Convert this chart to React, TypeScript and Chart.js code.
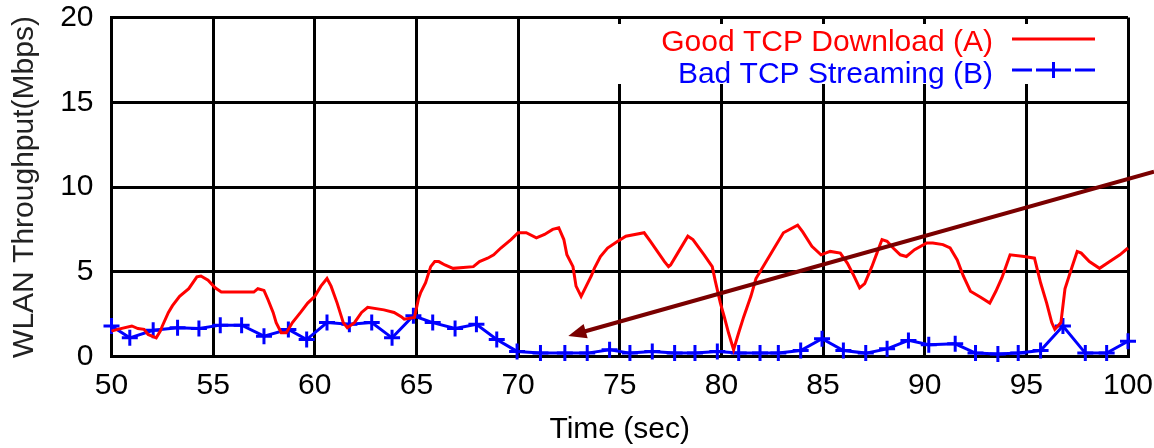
import React, { useEffect, useRef } from "react";
import { Chart, registerables } from "chart.js";

Chart.register(...registerables);

// ---- data ----
const redTimes = [
  50.0, 50.3, 51.0, 51.3, 51.6, 51.8, 52.2, 52.4, 52.5, 52.8, 53.0, 53.35, 53.8, 54.2, 54.4, 54.75,
  55.1, 55.4, 57.0, 57.2, 57.5, 57.7, 57.95, 58.1, 58.35, 58.6, 58.9, 59.3, 59.65, 60.0, 60.3, 60.6,
  60.8, 61.1, 61.4, 61.6, 61.95, 62.3, 62.6, 63.4, 63.9, 64.25, 64.4, 64.9, 65.1, 65.2, 65.45, 65.7,
  65.9, 66.1, 66.4, 66.8, 67.8, 68.1, 68.5, 68.8, 69.15, 69.65, 70.0, 70.4, 70.9, 71.3, 71.7, 72.0,
  72.25, 72.4, 72.7, 72.85, 73.1, 73.35, 73.6, 73.75, 74.05, 74.4, 74.9, 75.3, 76.2, 76.5, 76.85, 77.2,
  77.4, 77.5, 77.85, 78.35, 78.6, 79.15, 79.55, 79.7, 79.95, 80.15, 80.35, 80.6, 80.85, 81.1, 81.45, 81.7,
  82.1, 82.6, 83.05, 83.75, 84.0, 84.45, 84.9, 85.35, 85.85, 86.2, 86.5, 86.8, 87.05, 87.4, 87.65, 87.9,
  88.15, 88.45, 88.8, 89.1, 89.5, 90.1, 90.4, 90.9, 91.25, 91.6, 91.9, 92.25, 92.75, 93.2, 93.5, 93.8,
  94.2, 94.9, 95.4, 95.7, 96.0, 96.25, 96.4, 96.7, 96.9, 97.25, 97.5, 97.7, 98.1, 98.6, 99.1, 99.6, 100.0,
];
const redValues = [
  1.5, 1.6, 1.8, 1.65, 1.6, 1.3, 1.1, 1.5, 1.8, 2.6, 3.0, 3.55, 4.0, 4.7, 4.75, 4.5,
  4.05, 3.8, 3.8, 4.0, 3.9, 3.35, 2.6, 2.0, 1.4, 1.4, 2.0, 2.6, 3.15, 3.55, 4.15, 4.6,
  4.15, 3.15, 2.0, 1.7, 2.0, 2.6, 2.9, 2.75, 2.6, 2.35, 2.2, 2.3, 3.4, 3.75, 4.35, 5.3,
  5.6, 5.6, 5.4, 5.2, 5.3, 5.6, 5.8, 6.0, 6.4, 6.9, 7.3, 7.3, 7.0, 7.2, 7.5, 7.6,
  6.9, 6.0, 5.3, 4.15, 3.55, 4.15, 4.75, 5.2, 5.9, 6.4, 6.8, 7.1, 7.3, 6.8, 6.2, 5.6,
  5.3, 5.4, 6.1, 7.1, 6.9, 6.0, 5.3, 4.45, 3.15, 2.3, 1.4, 0.4, 1.4, 2.35, 3.55, 4.6,
  5.4, 6.4, 7.3, 7.75, 7.35, 6.5, 6.0, 6.2, 6.1, 5.5, 4.8, 4.05, 4.3, 5.3, 6.1, 6.9,
  6.8, 6.4, 6.0, 5.9, 6.3, 6.7, 6.7, 6.6, 6.4, 5.7, 4.75, 3.85, 3.5, 3.15, 3.85, 4.65,
  6.0, 5.9, 5.8, 4.35, 3.15, 2.0, 1.6, 2.0, 4.0, 5.3, 6.2, 6.1, 5.6, 5.2, 5.6, 6.0, 6.4,
];
const blueTimes = [
  50.0, 50.9, 52.05, 53.25, 54.3, 55.35, 56.4, 57.5, 58.7, 59.6, 60.6, 61.7, 62.8, 63.8, 64.85, 65.8,
  66.9, 67.95, 68.95, 69.95, 71.1, 72.3, 73.4, 74.5, 75.5, 76.6, 77.7, 78.7, 79.8, 80.85, 81.9, 82.8,
  83.9, 84.95, 86.0, 87.1, 88.15, 89.2, 90.2, 91.5, 92.5, 93.6, 94.6, 95.7, 96.8, 97.9, 98.95, 100.0,
];
const blueValues = [
  1.8, 1.1, 1.55, 1.7, 1.65, 1.85, 1.85, 1.2, 1.6, 1.0, 2.0, 1.9, 2.0, 1.1, 2.4, 2.0,
  1.65, 1.9, 1.0, 0.3, 0.2, 0.2, 0.2, 0.4, 0.2, 0.3, 0.2, 0.2, 0.3, 0.2, 0.2, 0.2,
  0.35, 1.05, 0.35, 0.2, 0.45, 0.95, 0.7, 0.75, 0.2, 0.15, 0.2, 0.35, 1.8, 0.2, 0.2, 0.9,
];
const seriesLabels = ["Good TCP Download (A)", "Bad TCP Streaming (B)"];
const seriesColors = ["#ff0000", "#0000ff"];
const xTitle = "Time (sec)";
const yTitle = "WLAN Throughput(Mbps)";
const xRange = [50, 100];
const yRange = [0, 20];
const tickStep = 5;
// annotation arrow, in data coordinates: [tail, head]
const arrowX = [101.28, 72.47];
const arrowY = [10.9, 1.21];

const FONT = "'Liberation Sans', Arial, sans-serif";

const legendPlugin = {
  id: "gnuLegend",
  beforeDatasetsDraw(chart: any) {
    const ctx = chart.ctx;
    const ca = chart.chartArea;
    ctx.save();
    ctx.fillStyle = "#ffffff";
    ctx.fillRect(596, ca.top + 6.5, ca.right - 2 - 596, 60);
    ctx.font = `30px ${FONT}`;
    ctx.textAlign = "right";
    ctx.textBaseline = "alphabetic";
    const textRight = 993;
    const rows = [51, 82.5];
    const lineYs = [39, 70];
    const sx0 = 1012, sx1 = 1095;
    for (let i = 0; i < 2; i++) {
      ctx.fillStyle = seriesColors[i];
      ctx.fillText(seriesLabels[i], textRight, rows[i]);
    }
    ctx.strokeStyle = seriesColors[0];
    ctx.lineWidth = 3;
    ctx.beginPath();
    ctx.moveTo(sx0, lineYs[0]);
    ctx.lineTo(sx1, lineYs[0]);
    ctx.stroke();
    ctx.strokeStyle = seriesColors[1];
    const segs = [[sx0, 1032], [1036, 1071], [1075, sx1]];
    ctx.beginPath();
    for (const [a, b] of segs) {
      ctx.moveTo(a, lineYs[1]);
      ctx.lineTo(b, lineYs[1]);
    }
    const cx = (sx0 + sx1) / 2;
    ctx.moveTo(cx, lineYs[1] - 8);
    ctx.lineTo(cx, lineYs[1] + 8);
    ctx.stroke();
    ctx.restore();
  },
};

const arrowPlugin = {
  id: "arrowAnno",
  afterDatasetsDraw(chart: any) {
    const { ctx, scales } = chart;
    const x1 = scales.x.getPixelForValue(arrowX[0]);
    const y1 = scales.y.getPixelForValue(arrowY[0]);
    const x2 = scales.x.getPixelForValue(arrowX[1]);
    const y2 = scales.y.getPixelForValue(arrowY[1]);
    const ang = Math.atan2(y2 - y1, x2 - x1);
    const headLen = 18;
    const headHalf = 7.5;
    const bx = x2 - Math.cos(ang) * headLen;
    const by = y2 - Math.sin(ang) * headLen;
    ctx.save();
    ctx.strokeStyle = "#7a0000";
    ctx.fillStyle = "#7a0000";
    ctx.lineWidth = 4;
    ctx.beginPath();
    ctx.moveTo(x1, y1);
    ctx.lineTo(bx + Math.cos(ang) * 4, by + Math.sin(ang) * 4);
    ctx.stroke();
    ctx.beginPath();
    ctx.moveTo(x2, y2);
    ctx.lineTo(bx - Math.sin(ang) * headHalf, by + Math.cos(ang) * headHalf);
    ctx.lineTo(bx + Math.sin(ang) * headHalf, by - Math.cos(ang) * headHalf);
    ctx.closePath();
    ctx.fill();
    ctx.restore();
  },
};

export default function App() {
  const ref = useRef<HTMLCanvasElement | null>(null);
  useEffect(() => {
    if (!ref.current) return;
    const red = redTimes.map((t, i) => ({ x: t, y: redValues[i] }));
    const blue = blueTimes.map((t, i) => ({ x: t, y: blueValues[i] }));
    const chart = new Chart(ref.current, {
      type: "line",
      data: {
        datasets: [
          {
            label: seriesLabels[0],
            data: red,
            borderColor: seriesColors[0],
            backgroundColor: seriesColors[0],
            borderWidth: 3,
            pointRadius: 0,
            tension: 0,
            clip: false as any,
          },
          {
            label: seriesLabels[1],
            data: blue,
            borderColor: seriesColors[1],
            backgroundColor: seriesColors[1],
            borderWidth: 3,
            pointStyle: "cross",
            pointRadius: 8,
            pointBorderWidth: 3,
            tension: 0,
            clip: false as any,
          },
        ],
      },
      options: {
        animation: false,
        responsive: false,
        maintainAspectRatio: false,
        events: [],
        layout: { padding: { top: 17.5, right: 26, bottom: 0, left: 0 } },
        plugins: {
          legend: { display: false },
          tooltip: { enabled: false },
        },
        scales: {
          x: {
            type: "linear",
            min: xRange[0],
            max: xRange[1],
            afterFit: (s: any) => {
              s.height = 91.5;
              s.paddingLeft = 0;
              s.paddingRight = 0;
            },
            ticks: {
              stepSize: tickStep,
              color: "#000",
              padding: 13,
              maxRotation: 0,
              font: { family: FONT, size: 30, lineHeight: 1.1 },
            },
            grid: { color: "#000", lineWidth: 3, drawTicks: false },
            border: { color: "#000", width: 3 },
            title: {
              display: true,
              text: xTitle,
              color: "#000",
              padding: { top: 0, bottom: 0 },
              font: { family: FONT, size: 30 },
            },
          },
          y: {
            type: "linear",
            min: yRange[0],
            max: yRange[1],
            afterFit: (s: any) => {
              s.width = 111.5;
              s.paddingTop = 0;
              s.paddingBottom = 0;
            },
            ticks: {
              stepSize: tickStep,
              color: "#000",
              padding: 18,
              font: { family: FONT, size: 30, lineHeight: 1.1 },
            },
            grid: { color: "#000", lineWidth: 3, drawTicks: false },
            border: { color: "#000", width: 3 },
            title: {
              display: true,
              text: yTitle,
              color: "#222",
              padding: { top: 7, bottom: 0 },
              font: { family: FONT, size: 30 },
            },
          },
        },
      },
      plugins: [legendPlugin, arrowPlugin],
    });
    return () => chart.destroy();
  }, []);
  return (
    <div style={{ position: "absolute", left: 0, top: 0, width: 1154, height: 448, background: "#fff" }}>
      <canvas ref={ref} width={1154} height={448} style={{ display: "block" }} />
    </div>
  );
}
